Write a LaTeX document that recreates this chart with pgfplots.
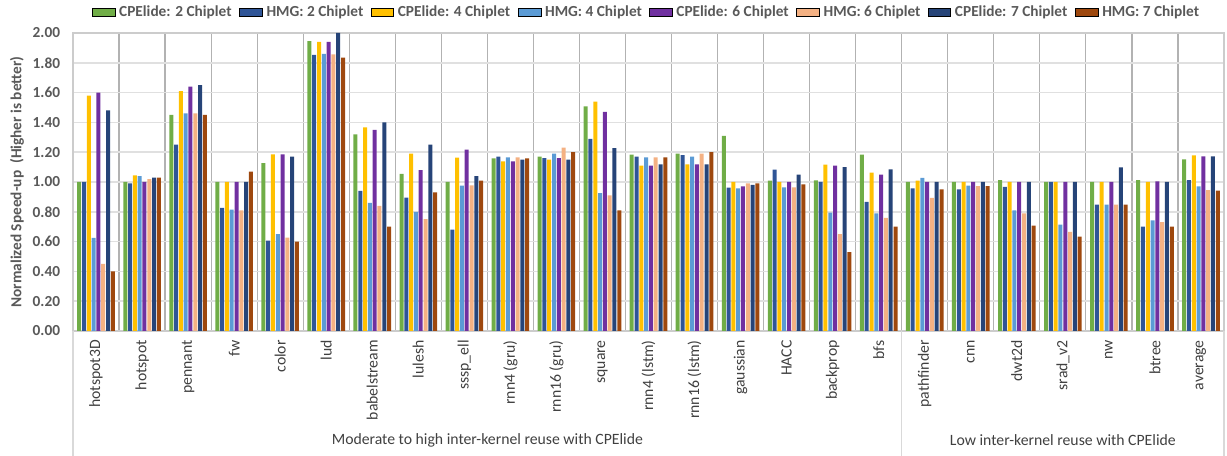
\documentclass[border=0pt]{standalone}
\usepackage{pgfplots}
\pgfplotsset{compat=1.18}
\usepackage{pgfplotstable}
\usepackage{fontspec}
\setmainfont{Carlito}
\definecolor{c1}{HTML}{70AD47}
\definecolor{c2}{HTML}{2F5597}
\definecolor{c3}{HTML}{FFC000}
\definecolor{c4}{HTML}{5B9BD5}
\definecolor{c5}{HTML}{7030A0}
\definecolor{c6}{HTML}{F4B183}
\definecolor{c7}{HTML}{264478}
\definecolor{c8}{HTML}{9E480E}
\definecolor{txtgray}{HTML}{595959}
\definecolor{lblgray}{HTML}{404040}
\pgfplotstableread{
x s1 s2 s3 s4 s5 s6 s7 s8
0 1.00 1.00 1.58 0.625 1.60 0.45 1.48 0.40
1 1.00 0.99 1.045 1.04 1.00 1.02 1.03 1.03
2 1.45 1.25 1.61 1.46 1.64 1.46 1.65 1.45
3 1.00 0.826 1.00 0.815 1.00 0.81 1.00 1.07
4 1.127 0.607 1.185 0.65 1.185 0.627 1.17 0.60
5 1.946 1.853 1.94 1.86 1.94 1.857 2.00 1.835
6 1.32 0.94 1.366 0.86 1.35 0.84 1.40 0.70
7 1.054 0.895 1.19 0.80 1.08 0.75 1.25 0.93
8 1.00 0.68 1.163 0.975 1.217 0.978 1.04 1.01
9 1.158 1.17 1.138 1.165 1.138 1.165 1.15 1.158
10 1.17 1.16 1.15 1.19 1.16 1.23 1.15 1.20
11 1.507 1.29 1.54 0.926 1.47 0.91 1.228 0.81
12 1.183 1.17 1.11 1.165 1.11 1.165 1.118 1.165
13 1.19 1.18 1.118 1.17 1.118 1.19 1.118 1.20
14 1.31 0.962 1.00 0.958 0.97 0.99 0.98 0.99
15 1.01 1.083 1.00 0.964 1.00 0.964 1.05 0.984
16 1.011 1.00 1.116 0.795 1.11 0.65 1.10 0.53
17 1.183 0.866 1.063 0.79 1.05 0.76 1.085 0.70
18 1.00 0.958 1.01 1.027 1.00 0.893 1.00 0.95
19 1.00 0.95 1.00 0.975 1.00 0.973 1.00 0.973
20 1.013 0.967 1.00 0.81 1.00 0.79 1.00 0.707
21 1.00 1.00 1.00 0.714 1.00 0.665 1.00 0.634
22 1.00 0.848 1.00 0.848 1.00 0.848 1.098 0.848
23 1.013 0.70 1.00 0.743 1.004 0.73 1.00 0.70
24 1.152 1.013 1.179 0.971 1.172 0.946 1.172 0.942
}\datatable
\begin{document}
\begin{tikzpicture}
\begin{axis}[
  scale only axis,
  width=863.25pt, height=223.5pt,
  xmin=-0.5, xmax=24.5, ymin=0, ymax=2,
  enlargelimits=false,
  clip=false,
  ybar=0.6pt, bar width=3pt,
  xtick={0,...,24},
  xticklabels={hotspot3D,hotspot,pennant,fw,color,lud,babelstream,lulesh,sssp\_ell,rnn4 (gru),rnn16 (gru),square,rnn4 (lstm),rnn16 (lstm),gaussian,HACC,backprop,bfs,pathfinder,cnn,dwt2d,srad\_v2,nw,btree,average},
  xticklabel style={rotate=90, anchor=east, inner sep=0pt, xshift=-6.75pt, font=\fontsize{11.8}{13}\selectfont, text=lblgray},
  minor x tick num=1,
  xminorgrids=true,
  minor grid style={draw=black!30, line width=0.9pt},
  ytick={0,0.2,...,2.01},
  ymajorgrids=true,
  major grid style={draw=black!12, line width=1.1pt},
  yticklabel style={/pgf/number format/fixed, /pgf/number format/fixed zerofill, /pgf/number format/precision=2, /pgf/number format/assume math mode=true, font=\bfseries\fontsize{11.5}{13}\selectfont, text=txtgray, inner sep=0pt, xshift=-9.5pt},
  major tick length=0pt, minor tick length=0pt,
  axis line style={draw=black!20, line width=0.8pt},
  ylabel={Normalized Speed-up\ \ (Higher is better)},
  ylabel style={at={(axis description cs:-0.0487,0.5)}, anchor=center, font=\bfseries\fontsize{11.5}{13}\selectfont, text=txtgray},
  legend columns=8,
  legend style={draw=none, at={(axis description cs:0.4974,1)}, anchor=center, yshift=15.75pt, font=\bfseries\fontsize{11.5}{13}\selectfont, text=txtgray, nodes={inner sep=0pt}, /tikz/every odd column/.append style={column sep=3pt}, /tikz/every even column/.append style={column sep=0pt}},
]
\addplot[fill=c1, draw=none, area legend] table[x=x,y=s1] {\datatable};
\addplot[fill=c2, draw=none, area legend] table[x=x,y=s2] {\datatable};
\addplot[fill=c3, draw=none, area legend] table[x=x,y=s3] {\datatable};
\addplot[fill=c4, draw=none, area legend] table[x=x,y=s4] {\datatable};
\addplot[fill=c5, draw=none, area legend] table[x=x,y=s5] {\datatable};
\addplot[fill=c6, draw=none, area legend] table[x=x,y=s6] {\datatable};
\addplot[fill=c7, draw=none, area legend] table[x=x,y=s7] {\datatable};
\addplot[fill=c8, draw=none, area legend] table[x=x,y=s8] {\datatable};
\legend{\makebox[90pt][l]{CPElide: 2 Chiplet},\makebox[78pt][l]{HMG: 2 Chiplet},\makebox[90pt][l]{CPElide: 4 Chiplet},\makebox[78pt][l]{HMG: 4 Chiplet},\makebox[90pt][l]{CPElide: 6 Chiplet},\makebox[78pt][l]{HMG: 6 Chiplet},\makebox[90pt][l]{CPElide: 7 Chiplet},HMG: 7 Chiplet}
\coordinate (O) at (rel axis cs:0,0);
\draw[black!15, line width=0.8pt] (axis cs:-0.5,0) -- ([yshift=-93.75pt]axis cs:-0.5,0);
\draw[black!15, line width=0.8pt] (axis cs:17.5,0) -- ([yshift=-93.75pt]axis cs:17.5,0);
\draw[black!15, line width=0.8pt] (axis cs:24.5,0) -- ([yshift=-93.75pt]axis cs:24.5,0);
\node[font=\fontsize{11.8}{14}\selectfont, text=lblgray] at ([yshift=-81.75pt]axis cs:8.5,0) {Moderate to high inter-kernel reuse with CPElide};
\node[font=\fontsize{11.8}{14}\selectfont, text=lblgray] at ([yshift=-81.75pt]axis cs:21,0) {Low inter-kernel reuse with CPElide};
\end{axis}
\pgfresetboundingbox
\path[use as bounding box] (O) ++(-54.75pt,-93.75pt) rectangle ++(920.25pt,342pt);
\end{tikzpicture}
\end{document}
